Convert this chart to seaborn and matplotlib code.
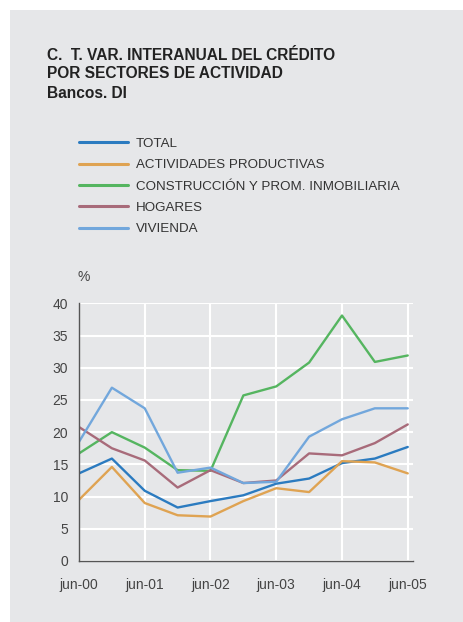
import pandas as pd
import matplotlib.pyplot as plt
import seaborn as sns
from matplotlib.patches import Rectangle

# half-year points, jun-00 .. jun-05
periods = ["jun-00", "dic-00", "jun-01", "dic-01", "jun-02", "dic-02",
           "jun-03", "dic-03", "jun-04", "dic-04", "jun-05"]
tick_labels = ["jun-00", "jun-01", "jun-02", "jun-03", "jun-04", "jun-05"]

total = [13.6, 15.9, 10.9, 8.3, 9.3, 10.2, 12.0, 12.8, 15.2, 15.9, 17.7]
productivas = [9.5, 14.6, 9.0, 7.1, 6.9, 9.3, 11.3, 10.7, 15.5, 15.3, 13.6]
construccion = [16.7, 20.0, 17.6, 14.1, 14.0, 25.7, 27.1, 30.8, 38.1, 30.9, 31.9]
hogares = [20.8, 17.5, 15.6, 11.4, 14.1, 12.1, 12.5, 16.7, 16.4, 18.3, 21.2]
vivienda = [18.5, 26.9, 23.7, 13.7, 14.5, 12.1, 12.3, 19.3, 22.0, 23.7, 23.7]

series = {
    "TOTAL": total,
    "ACTIVIDADES PRODUCTIVAS": productivas,
    "CONSTRUCCIÓN Y PROM. INMOBILIARIA": construccion,
    "HOGARES": hogares,
    "VIVIENDA": vivienda,
}
colors = ["#2b7bc0", "#dfa352", "#55b560", "#a86b7a", "#72a7dc"]

rows = []
for name, vals in series.items():
    for i, v in enumerate(vals):
        rows.append({"x": i, "serie": name, "valor": v})
df = pd.DataFrame(rows)

sns.set_style("white")
plt.rcParams["font.family"] = ["Liberation Sans", "DejaVu Sans"]

bg = "#e6e7e9"
fig = plt.figure(figsize=(4.64, 6.22), dpi=100)
fig.patch.set_facecolor("white")
fig.patches.append(Rectangle((10 / 464, 0), 1, 1 - 10 / 622, transform=fig.transFigure,
                             facecolor=bg, edgecolor="none", zorder=-10))

ax = fig.add_axes([79 / 464, 61 / 622, 334 / 464, 257.7 / 622])
ax.set_facecolor(bg)

sns.lineplot(data=df, x="x", y="valor", hue="serie", palette=colors,
             linewidth=1.7, ax=ax, legend=True)

ax.set_xlim(0, 10.16)
ax.set_ylim(0, 40)
ax.set_xticks(range(0, 11, 2))
ax.set_xticklabels(tick_labels)
ax.set_yticks(range(0, 41, 5))
ax.grid(True, color="white", linewidth=1.5)
ax.set_axisbelow(True)
ax.set_xlabel("")
ax.set_ylabel("")
for s in ["top", "right"]:
    ax.spines[s].set_visible(False)
for s in ["left", "bottom"]:
    ax.spines[s].set_color("#555555")
    ax.spines[s].set_linewidth(1.0)
ax.tick_params(axis="both", length=0, labelsize=10, colors="#444444")
ax.tick_params(axis="y", pad=8)
ax.tick_params(axis="x", pad=12)

handles, labels = ax.get_legend_handles_labels()
ax.legend_.remove()
leg = fig.legend(handles, labels, loc="upper left",
                 bbox_to_anchor=(79 / 464, 1 - 137.5 / 622),
                 frameon=False, fontsize=9.6, handlelength=3.7,
                 handletextpad=0.55, labelspacing=0.68, borderpad=0,
                 borderaxespad=0)
for t in leg.get_texts():
    t.set_color("#333333")
for h in leg.get_lines():
    h.set_linewidth(2.2)

fig.text(78 / 464, 1 - 277 / 622, "%", fontsize=10, color="#444444", va="center")

for i, line in enumerate(["C.  T. VAR. INTERANUAL DEL CRÉDITO",
                          "POR SECTORES DE ACTIVIDAD", "Bancos. DI"]):
    fig.text(47 / 464, 1 - (55 + 19 * i) / 622, line, fontsize=11.2,
             fontweight="bold", color="#222222", va="center")

fig.savefig("out.png", dpi=100, facecolor=fig.get_facecolor())
